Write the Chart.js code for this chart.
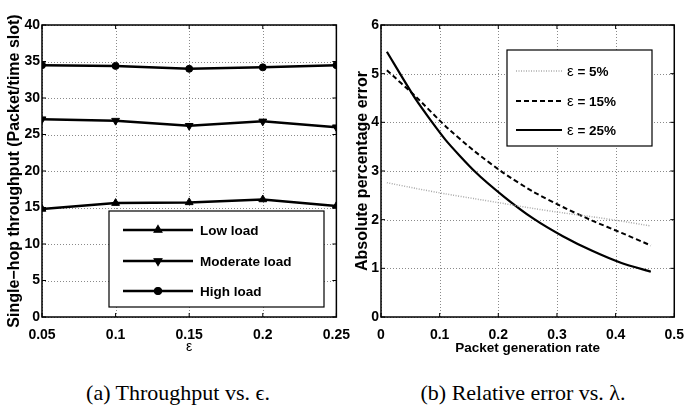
<!DOCTYPE html>
<html>
<head>
<meta charset="utf-8">
<script src="https://cdn.jsdelivr.net/npm/chart.js@4/dist/chart.umd.min.js"></script>
<style>
  body { margin: 0; background: #fff; width: 694px; height: 405px; position: relative; overflow: hidden; }
  canvas { position: absolute; top: 0; }
  #left { left: 0; }
  #right { left: 345px; }
  .caption { position: absolute; top: 380px; line-height: 25px; font-family: "Liberation Serif", "Times New Roman", serif; font-size: 22px; color: #000; white-space: nowrap; transform: translateX(-50%); }
</style>
</head>
<body>
<canvas id="left" width="360" height="360" style="width:360px;height:360px"></canvas>
<canvas id="right" width="349" height="360" style="width:349px;height:360px"></canvas>
<div class="caption" style="left:178px">(a) Throughput vs. ϵ.</div>
<div class="caption" style="left:523px">(b) Relative error vs. λ.</div>
<script>
// throughput chart
var epsValues = [0.05, 0.1, 0.15, 0.2, 0.25];
var lowLoad = [14.8, 15.6, 15.7, 16.1, 15.2];
var moderateLoad = [27.1, 26.9, 26.2, 26.8, 26.0];
var highLoad = [34.5, 34.4, 34.0, 34.2, 34.5];

// relative error chart
var genRate = [0.01, 0.06, 0.11, 0.16, 0.21, 0.26, 0.31, 0.36, 0.41, 0.46];
var err5 = [2.76, 2.64, 2.53, 2.43, 2.33, 2.23, 2.14, 2.06, 1.97, 1.87];
var err15 = [5.07, 4.52, 3.92, 3.40, 2.95, 2.57, 2.26, 1.98, 1.73, 1.47];
var err25 = [5.45, 4.46, 3.64, 2.99, 2.47, 2.02, 1.66, 1.36, 1.11, 0.93];

var FONT = '"Liberation Sans", Arial, sans-serif';

function pts(xs, ys) {
    return xs.map(function(x, i) { return {x: x, y: ys[i]}; });
}

// matlab style dotted grid, frame and inward ticks
var boxFrame = {
    id: 'boxFrame',
    beforeDatasetsDraw: function(chart) {
        var ctx = chart.ctx, a = chart.chartArea;
        var xs = chart.scales.x, ys = chart.scales.y;
        ctx.save();
        ctx.strokeStyle = '#8a8a8a';
        ctx.lineWidth = 1;
        ctx.setLineDash([1, 2]);
        ctx.beginPath();
        xs.ticks.forEach(function(t) {
            var px = Math.round(xs.getPixelForValue(t.value)) + 0.5;
            ctx.moveTo(px, a.top); ctx.lineTo(px, a.bottom);
        });
        ys.ticks.forEach(function(t) {
            var py = Math.round(ys.getPixelForValue(t.value)) + 0.5;
            ctx.moveTo(a.left, py); ctx.lineTo(a.right, py);
        });
        ctx.stroke();
        ctx.restore();
    },
    afterDatasetsDraw: function(chart) {
        var ctx = chart.ctx, a = chart.chartArea;
        var xs = chart.scales.x, ys = chart.scales.y;
        ctx.save();
        ctx.strokeStyle = '#000';
        ctx.lineWidth = 1.5;
        ctx.strokeRect(a.left, a.top, a.right - a.left, a.bottom - a.top);
        ctx.lineWidth = 1;
        ctx.beginPath();
        xs.ticks.forEach(function(t) {
            var px = xs.getPixelForValue(t.value);
            ctx.moveTo(px, a.bottom); ctx.lineTo(px, a.bottom - 4);
            ctx.moveTo(px, a.top); ctx.lineTo(px, a.top + 4);
        });
        ys.ticks.forEach(function(t) {
            var py = ys.getPixelForValue(t.value);
            ctx.moveTo(a.left, py); ctx.lineTo(a.left + 4, py);
            ctx.moveTo(a.right, py); ctx.lineTo(a.right - 4, py);
        });
        ctx.stroke();
        ctx.restore();
    }
};

// legend box drawn inside the plot
var boxLegend = {
    id: 'boxLegend',
    afterDraw: function(chart) {
        var o = chart.options.plugins.boxLegend;
        if (!o) return;
        var ctx = chart.ctx;
        ctx.save();
        ctx.fillStyle = '#fff';
        ctx.fillRect(o.left, o.top, o.width, o.height);
        ctx.strokeStyle = '#000';
        ctx.lineWidth = 1.2;
        ctx.strokeRect(o.left, o.top, o.width, o.height);
        chart.data.datasets.forEach(function(ds, i) {
            var y = o.rows[i];
            ctx.save();
            ctx.strokeStyle = ds.borderColor;
            ctx.lineWidth = ds.borderWidth;
            ctx.setLineDash(ds.borderDash || []);
            ctx.beginPath();
            ctx.moveTo(o.x1, y);
            ctx.lineTo(o.x2, y);
            ctx.stroke();
            ctx.restore();
            if (ds.pointStyle && ds.pointRadius) {
                Chart.helpers.drawPoint(ctx, {
                    pointStyle: ds.pointStyle,
                    rotation: ds.pointRotation || 0,
                    radius: ds.pointRadius,
                    borderWidth: 1
                }, (o.x1 + o.x2) / 2, y);
                ctx.fillStyle = '#000';
                ctx.fill();
            }
            ctx.fillStyle = '#000';
            ctx.textBaseline = 'middle';
            ctx.textAlign = 'left';
            var x = o.textX, text = ds.label;
            if (text.charAt(0) === 'ε') {
                ctx.font = '15px ' + FONT;
                ctx.fillText('ε', x, y + 1);
                x += ctx.measureText('ε').width;
                text = text.slice(1);
            }
            ctx.font = 'bold 13.5px ' + FONT;
            ctx.fillText(text, x, y + 1);
        });
        ctx.restore();
    }
};

var gridOpts = { display: false, drawTicks: false };
var borderOpts = { display: false };
var tickFont = { family: FONT, size: 14, weight: 'bold' };
var xTitleFont = { family: FONT, size: 13.5, weight: 'bold' };
var yTitleFont = { family: FONT, size: 16, weight: 'bold' };

new Chart(document.getElementById('left'), {
    type: 'line',
    data: {
        datasets: [
            { label: 'Low load', data: pts(epsValues, lowLoad), pointStyle: 'triangle', pointRadius: 4.5 },
            { label: 'Moderate load', data: pts(epsValues, moderateLoad), pointStyle: 'triangle', pointRotation: 180, pointRadius: 4.5 },
            { label: 'High load', data: pts(epsValues, highLoad), pointStyle: 'circle', pointRadius: 3.5 }
        ].map(function(d) {
            d.borderColor = '#000';
            d.backgroundColor = '#000';
            d.borderWidth = 2.5;
            d.pointBorderWidth = 1;
            d.tension = 0;
            return d;
        })
    },
    options: {
        responsive: false,
        animation: false,
        layout: { padding: { top: 25, right: 22, left: 0, bottom: 0 } },
        plugins: {
            legend: { display: false },
            tooltip: { enabled: false },
            boxLegend: { left: 109, top: 211, width: 215, height: 96, x1: 123, x2: 193, textX: 200, rows: [230, 261, 291] }
        },
        scales: {
            x: {
                type: 'linear', min: 0.05, max: 0.25,
                afterFit: function(s) { s.height = 43; },
                ticks: { stepSize: 0.05, color: '#000', font: tickFont, padding: 10, maxRotation: 0,
                    callback: function(v) { return +v.toFixed(2); } },
                grid: gridOpts, border: borderOpts,
                title: { display: true, text: 'ε', color: '#000', font: { family: FONT, size: 14 }, padding: { top: 0, bottom: 4 } }
            },
            y: {
                min: 0, max: 40,
                afterFit: function(s) { s.width = 42; },
                ticks: { stepSize: 5, color: '#000', font: tickFont, padding: 2 },
                grid: gridOpts, border: borderOpts,
                title: { display: true, text: 'Single−hop throughput (Packet/time slot)', color: '#000', font: yTitleFont, padding: { top: 5, bottom: 0 } }
            }
        }
    },
    plugins: [boxFrame, boxLegend]
});

new Chart(document.getElementById('right'), {
    type: 'line',
    data: {
        datasets: [
            { label: 'ε = 5%', data: pts(genRate, err5), borderColor: '#aaa', borderWidth: 1.5, borderDash: [1, 1.5] },
            { label: 'ε = 15%', data: pts(genRate, err15), borderColor: '#000', borderWidth: 2, borderDash: [5, 3] },
            { label: 'ε = 25%', data: pts(genRate, err25), borderColor: '#000', borderWidth: 2.2 }
        ].map(function(d) {
            d.pointRadius = 0;
            d.tension = 0.2;
            d.fill = false;
            return d;
        })
    },
    options: {
        responsive: false,
        animation: false,
        layout: { padding: { top: 25, right: 10, left: 0, bottom: 0 } },
        plugins: {
            legend: { display: false },
            tooltip: { enabled: false },
            boxLegend: { left: 162, top: 50, width: 145, height: 96, x1: 171, x2: 217, textX: 222, rows: [71, 101, 130] }
        },
        scales: {
            x: {
                type: 'linear', min: 0, max: 0.5,
                afterFit: function(s) { s.height = 43; },
                ticks: { stepSize: 0.1, color: '#000', font: tickFont, padding: 10, maxRotation: 0,
                    callback: function(v) { return +v.toFixed(1); } },
                grid: gridOpts, border: borderOpts,
                title: { display: true, text: 'Packet generation rate', color: '#000', font: xTitleFont, padding: { top: 0, bottom: 4 } }
            },
            y: {
                min: 0, max: 6,
                afterFit: function(s) { s.width = 36; },
                ticks: { stepSize: 1, color: '#000', font: tickFont, padding: 2 },
                grid: gridOpts, border: borderOpts,
                title: { display: true, text: 'Absolute percentage error', color: '#000', font: yTitleFont, padding: { top: 8, bottom: 0 } }
            }
        }
    },
    plugins: [boxFrame, boxLegend]
});
</script>
</body>
</html>
